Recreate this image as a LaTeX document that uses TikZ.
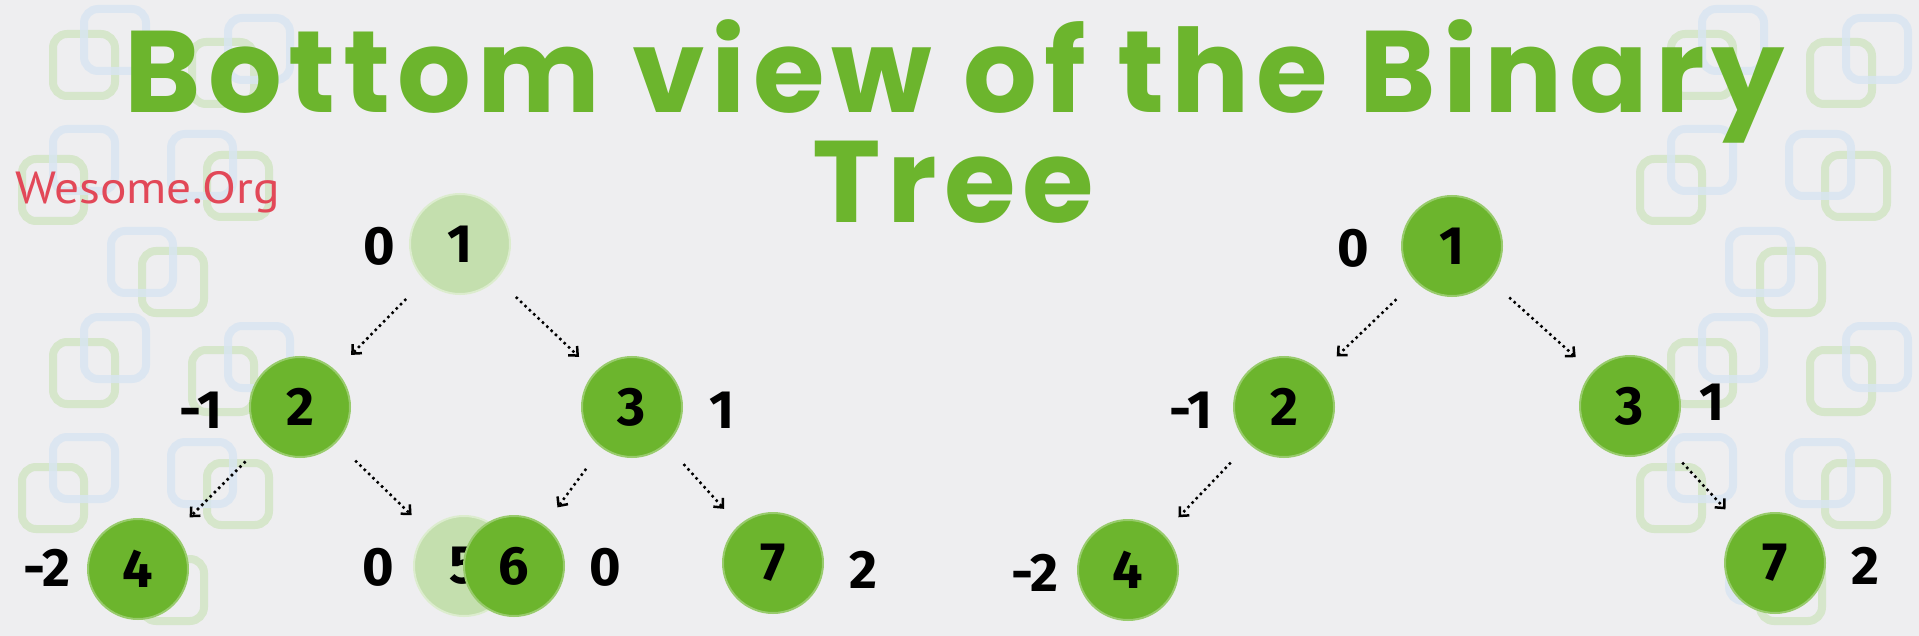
\documentclass[tikz,border=0pt]{standalone}
\usepackage{fontspec}
\setmainfont{Fira Sans}
\newfontfamily\titlefont{Poppins}[LetterSpace=6]
\newfontfamily\markfont{PT Sans}
\usetikzlibrary{arrows.meta}
\definecolor{treegreen}{RGB}{108,181,45}
\definecolor{fadegreen}{RGB}{196,223,174}
\definecolor{markred}{RGB}{226,72,88}
\definecolor{cloth}{RGB}{238,238,240}
\definecolor{tileblue}{RGB}{216,229,242}
\definecolor{tilegreen}{RGB}{214,230,203}

\begin{document}
\begin{tikzpicture}[x=1pt, y=-1pt,
  tnode/.style={circle, fill=treegreen, draw=treegreen!70!white, line width=2pt,
    minimum size=100pt, inner sep=0pt, font=\fontsize{54}{54}\selectfont\bfseries},
  tfaded/.style={tnode, fill=fadegreen, draw=fadegreen!60!white},
  vnum/.style={inner sep=0pt, font=\fontsize{54}{54}\selectfont\bfseries},
  arr/.style={-{Straight Barb[length=7pt,width=13pt]}, line width=2.5pt,
    dash pattern=on 2.5pt off 3.5pt, shorten <=26pt, shorten >=22pt},
  tile/.style={rounded corners=14pt, line width=8pt}]
  \fill[cloth] (0,0) rectangle (1919,636);
  \path[use as bounding box] (0,0) rectangle (1919,636);
  \foreach \dx in {0,1618} \foreach \dy in {0,308} {
    \foreach \bx/\by/\gx/\gy in {115/40/84/65, 259/49/223/73, 84/160/53/190, 202/165/238/186, 142/262/173/282} {
      \draw[tile, tilegreen] (\dx+\gx-31,\dy+\gy-31) rectangle ++(62,62);
      \draw[tile, tileblue, opacity=0.8] (\dx+\bx-31,\dy+\by-31) rectangle ++(62,62);
    }
  }
  \node[anchor=base, inner sep=0pt, text=treegreen, font=\titlefont\fontsize{116}{116}\selectfont\bfseries] (title) at (955,113) {Bottom view of the Binary};
  \node[anchor=base, inner sep=0pt, text=treegreen, font=\titlefont\fontsize{116}{116}\selectfont\bfseries] (titletree) at (953,223) {Tree};
  \node[anchor=base west, inner sep=0pt, text=markred, xscale=1.1, font=\markfont\fontsize{45}{45}\selectfont] (brand) at (15,204) {Wesome.Org};

  \node[tfaded] (a1) at (460,244) {1};
  \node[tnode] (a2) at (300,407) {2};
  \node[tnode] (a3) at (632,407) {3};
  \node[tnode] (a4) at (138,569) {4};
  \node[tfaded] (a5) at (464,566) {5};
  \node[tnode] (a6) at (514,566) {6};
  \node[tnode] (a7) at (773,563) {7};
  \node[vnum] (ha1) at (379,246) {0};
  \node[vnum] (ha2) at (201,410) {-1};
  \node[vnum] (ha3) at (722,410) {1};
  \node[vnum] (ha4) at (47,568) {-2};
  \node[vnum] (ha5) at (378,567) {0};
  \node[vnum] (ha6) at (605,567) {0};
  \node[vnum] (ha7) at (863,570) {2};
  \path[arr] (a1) edge (a2);
  \path[arr] (a1) edge (a3);
  \path[arr] (a2) edge (a4);
  \path[arr] (a2) edge (a5);
  \path[arr] (a3) edge (a6);
  \path[arr] (a3) edge (a7);

  \node[tnode] (b1) at (1452,246) {1};
  \node[tnode] (b2) at (1284,407) {2};
  \node[tnode] (b3) at (1630,406) {3};
  \node[tnode] (b4) at (1128,570) {4};
  \node[tnode] (b7) at (1775,563) {7};
  \node[vnum] (hb1) at (1353,248) {0};
  \node[vnum] (hb2) at (1191,410) {-1};
  \node[vnum] (hb3) at (1712,402) {1};
  \node[vnum] (hb4) at (1035,573) {-2};
  \node[vnum] (hb7) at (1865,566) {2};
  \path[arr] (b1) edge (b2);
  \path[arr] (b1) edge (b3);
  \path[arr] (b2) edge (b4);
  \path[arr] (b3) edge (b7);
\end{tikzpicture}
\end{document}
